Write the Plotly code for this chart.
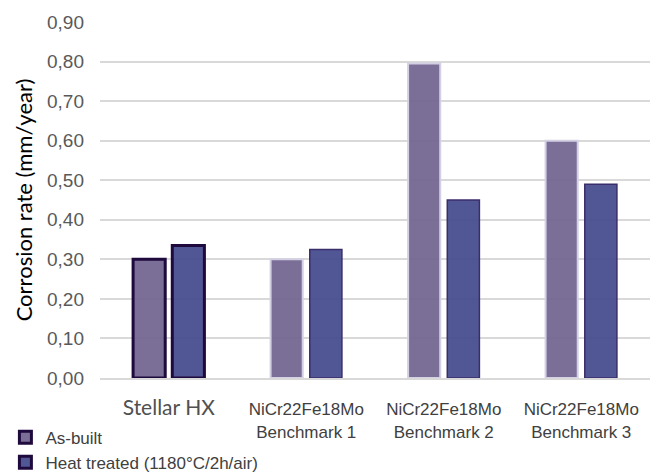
import plotly.graph_objects as go

categories = ["Stellar HX", "NiCr22Fe18Mo<br>Benchmark 1", "NiCr22Fe18Mo<br>Benchmark 2", "NiCr22Fe18Mo<br>Benchmark 3"]
as_built = [0.30, 0.30, 0.795, 0.60]
heat_treated = [0.335, 0.325, 0.45, 0.49]
series_names = ["As-built", "Heat treated (1180°C/2h/air)"]
y_ticks = [0.0, 0.1, 0.2, 0.3, 0.4, 0.5, 0.6, 0.7, 0.8, 0.9]

x_pos = list(range(len(categories)))

fig = go.Figure()
fig.add_trace(go.Bar(
    x=x_pos, y=as_built, name=series_names[0],
    marker=dict(color="rgba(113,100,143,0.93)",
                line=dict(color=["#1F0A3D", "#D3D0E4", "#D3D0E4", "#D3D0E4"], width=[3, 2, 2, 2])),
))
fig.add_trace(go.Bar(
    x=x_pos, y=heat_treated, name=series_names[1],
    marker=dict(color="rgba(72,77,143,0.95)",
                line=dict(color=["#1F0A3D", "#3B2D6B", "#3B2D6B", "#3B2D6B"], width=[3, 1.5, 1.5, 1.5])),
))

tick_text = ['<span style="font-family:Lato;font-size:21px;color:#505050">Stellar HX</span>'] + categories[1:]

fig.update_layout(
    width=650, height=468,
    margin=dict(l=92, r=8, t=14, b=98, autoexpand=False),
    paper_bgcolor="white", plot_bgcolor="white",
    separators=",.",
    barmode="group", bargap=0.43, bargroupgap=0.18,
    font=dict(family="Liberation Sans, Arial", color="#595959", size=17),
    showlegend=True,
    legend=dict(orientation="v", x=-0.172, xanchor="left",
                y=-0.117, yanchor="top",
                font=dict(size=17, color="#404040"), tracegroupgap=0,
                itemwidth=30, bgcolor="rgba(0,0,0,0)"),
    xaxis=dict(tickmode="array", tickvals=x_pos, ticktext=tick_text, tickangle=0,
               range=[-0.5, 3.5], showgrid=False, showline=True,
               linecolor="#D9D9D9", linewidth=2, ticks="", ticklabelstandoff=15,
               tickfont=dict(size=17, color="#404040")),
    yaxis=dict(range=[0, 0.9], tickvals=y_ticks, tickformat=".2f",
               showgrid=True, gridcolor="#D9D9D9", gridwidth=1.5,
               zeroline=False, showline=False, ticks="",
               ticklabelstandoff=15, tickfont=dict(size=19, color="#595959")),
)
fig.update_yaxes(title=dict(text="Corrosion rate (mm/year)", standoff=8,
                            font=dict(family="Lato", size=22, color="#000000")))

fig.write_html("out.html")
